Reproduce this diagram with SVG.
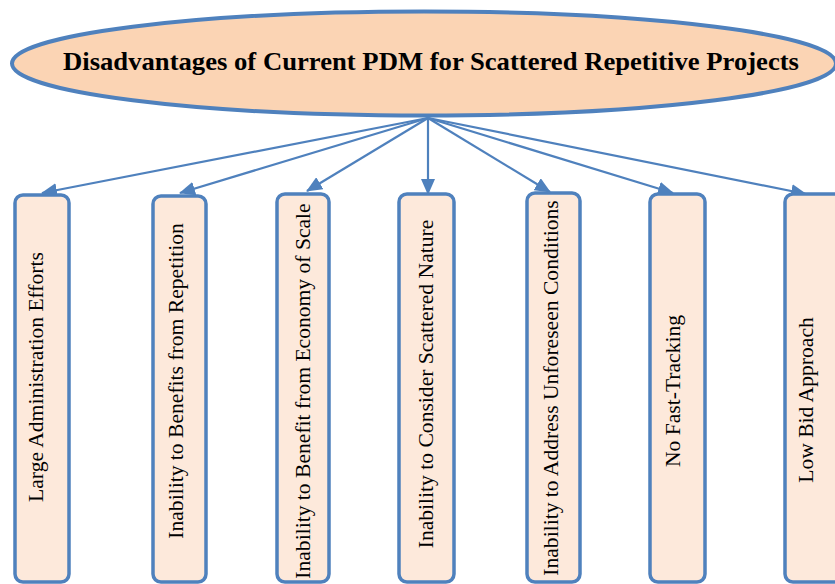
<svg xmlns="http://www.w3.org/2000/svg" width="835" height="584" viewBox="0 0 835 584">
<style>
.box{fill:#FDE9DB;stroke:#4F81BD;stroke-width:3.5}
.lbl{font-family:"Liberation Serif","Times New Roman",serif;font-size:21.6px;fill:#000;text-anchor:middle}
.conn{stroke:#4F81BD;stroke-width:2.2;fill:none;marker-end:url(#ah)}
</style>
<defs>
<marker id="ah" markerUnits="userSpaceOnUse" markerWidth="16" markerHeight="14" refX="15" refY="7" orient="auto">
<path d="M0,0 L16,7 L0,14 Z" fill="#4F81BD"/>
</marker>
</defs>
<rect width="835" height="584" fill="#fff"/>
<g id="connectors">
<line class="conn" x1="428" y1="118" x2="42" y2="193"/>
<line class="conn" x1="428" y1="118" x2="180" y2="193"/>
<line class="conn" x1="428" y1="118" x2="307" y2="191"/>
<line class="conn" x1="428" y1="118" x2="428" y2="194"/>
<line class="conn" x1="428" y1="118" x2="550" y2="192"/>
<line class="conn" x1="428" y1="118" x2="673" y2="193"/>
<line class="conn" x1="428" y1="118" x2="806" y2="194"/>
</g>
<g id="root">
<ellipse cx="424" cy="63.5" rx="412" ry="52" fill="#FBD4B4" stroke="#4F81BD" stroke-width="4"/>
<text x="431" y="69.5" font-family="'Liberation Serif','Times New Roman',serif" font-weight="bold" font-size="25.5" text-anchor="middle" textLength="736" lengthAdjust="spacingAndGlyphs">Disadvantages of Current PDM for Scattered Repetitive Projects</text>
</g>
<g id="n1"><rect class="box" x="15" y="195" width="54" height="387" rx="8"/><text class="lbl" transform="translate(43,377) rotate(-90)">Large Administration Efforts</text></g>
<g id="n2"><rect class="box" x="153" y="196" width="53" height="386" rx="8"/><text class="lbl" transform="translate(183,381) rotate(-90)">Inability to Benefits from Repetition</text></g>
<g id="n3"><rect class="box" x="277" y="194" width="52" height="388" rx="8"/><text class="lbl" transform="translate(310,391) rotate(-90)">Inability to Benefit from Economy of Scale</text></g>
<g id="n4"><rect class="box" x="399" y="194" width="55" height="388" rx="8"/><text class="lbl" transform="translate(433,384) rotate(-90)">Inability to Consider Scattered Nature</text></g>
<g id="n5"><rect class="box" x="527" y="193" width="53" height="389" rx="8"/><text class="lbl" transform="translate(558,388) rotate(-90)">Inability to Address Unforeseen Conditions</text></g>
<g id="n6"><rect class="box" x="650" y="194" width="55" height="388" rx="8"/><text class="lbl" transform="translate(680,391) rotate(-90)">No Fast-Tracking</text></g>
<g id="n7"><rect class="box" x="785" y="194" width="60" height="388" rx="8"/><text class="lbl" transform="translate(813,400) rotate(-90)">Low Bid Approach</text></g>
</svg>
